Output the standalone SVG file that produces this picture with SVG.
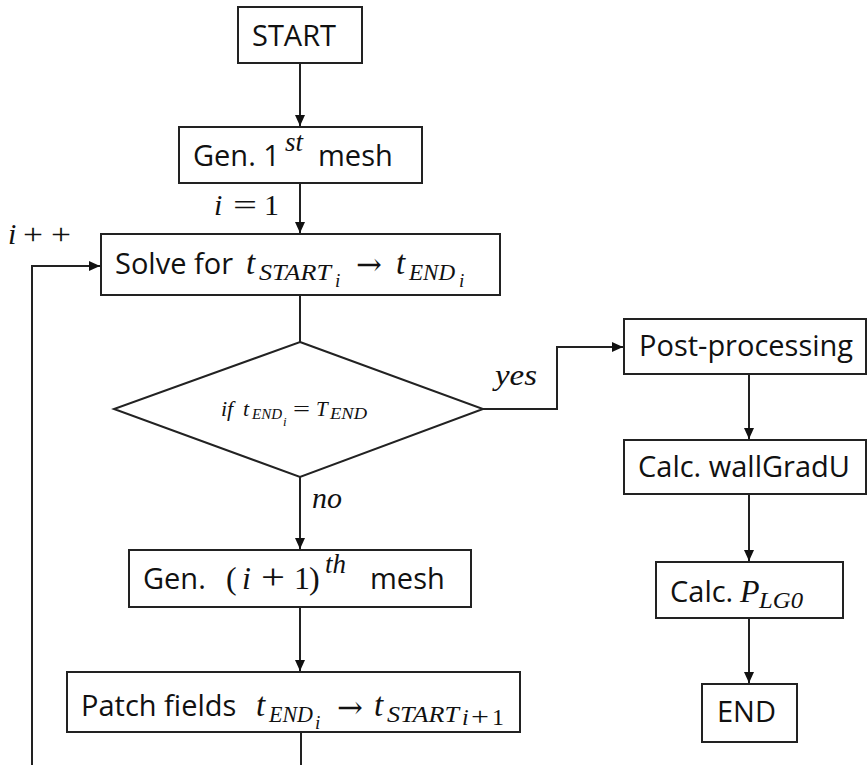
<svg xmlns="http://www.w3.org/2000/svg" width="867" height="765" viewBox="0 0 867 765">
  <style>
    .box { fill: #ffffff; stroke: #222222; stroke-width: 2; }
    .lbl { font-family: "Open Sans", "Noto Sans", "Liberation Sans", sans-serif; font-size: 29px; fill: #111111; }
    .m { font-family: "Liberation Serif", "DejaVu Serif", serif; font-style: italic; fill: #111111; }
    .mu { font-family: "Liberation Serif", "DejaVu Serif", serif; fill: #111111; }
    .arr { font-family: "DejaVu Serif", "DejaVu Sans", serif; fill: #111111; }
    .wire { fill: none; stroke: #222222; stroke-width: 2; }
  </style>
  <defs>
    <marker id="arrow" markerUnits="userSpaceOnUse" markerWidth="12" markerHeight="12" refX="11" refY="5" orient="auto">
      <path d="M0,0 L11,5 L0,10 Z" fill="#111111"/>
    </marker>
  </defs>
  <rect width="867" height="765" fill="#ffffff"/>

  <g id="connectors">
    <path class="wire" d="M300,63 V126" marker-end="url(#arrow)"/>
    <path class="wire" d="M300,183 V233" marker-end="url(#arrow)"/>
    <path class="wire" d="M300,295 V342"/>
    <path class="wire" d="M300,477 V549" marker-end="url(#arrow)"/>
    <path class="wire" d="M300,607 V671" marker-end="url(#arrow)"/>
    <path class="wire" d="M301,732 V765"/>
    <path class="wire" d="M32,765 V266 H100" marker-end="url(#arrow)"/>
    <path class="wire" d="M483,409 H557 V347 H623" marker-end="url(#arrow)"/>
    <path class="wire" d="M749,374 V439" marker-end="url(#arrow)"/>
    <path class="wire" d="M749,494 V561" marker-end="url(#arrow)"/>
    <path class="wire" d="M749,618 V683" marker-end="url(#arrow)"/>
    <!-- edge labels -->
    <g id="label-i-eq-1">
      <text class="m" x="214" y="215" font-size="30">i</text>
      <text class="mu" x="233" y="215" font-size="30" textLength="24" lengthAdjust="spacingAndGlyphs">=</text>
      <text class="mu" x="264" y="215" font-size="30">1</text>
    </g>
    <g id="label-i-inc">
      <text class="m" x="8" y="244" font-size="30">i</text>
      <text class="mu" x="23" y="244" font-size="30" textLength="20" lengthAdjust="spacingAndGlyphs">+</text>
      <text class="mu" x="51" y="244" font-size="30" textLength="20" lengthAdjust="spacingAndGlyphs">+</text>
    </g>
    <text class="m" x="495" y="385" font-size="30" textLength="42" lengthAdjust="spacingAndGlyphs">yes</text>
    <text class="m" x="312" y="508" font-size="30">no</text>
  </g>

  <g id="start">
    <rect class="box" x="238" y="7" width="124" height="56"/>
    <text class="lbl" x="252" y="46">START</text>
  </g>

  <g id="gen-first-mesh">
    <rect class="box" x="179" y="127" width="243" height="56"/>
    <text class="lbl" x="193" y="166">Gen. 1</text>
    <text class="m" x="285" y="151" font-size="27">st</text>
    <text class="lbl" x="318" y="166">mesh</text>
  </g>

  <g id="solve">
    <rect class="box" x="101" y="234" width="399" height="61"/>
    <text class="lbl" x="115" y="274">Solve for</text>
    <text class="m" x="246" y="274" font-size="33">t</text>
    <text class="m" x="259" y="280" font-size="23" textLength="72" lengthAdjust="spacingAndGlyphs">START</text>
    <text class="m" x="335" y="287" font-size="19">i</text>
    <text class="arr" x="356" y="275" font-size="31">→</text>
    <text class="m" x="396" y="274" font-size="33">t</text>
    <text class="m" x="409" y="280" font-size="23" textLength="46" lengthAdjust="spacingAndGlyphs">END</text>
    <text class="m" x="459" y="287" font-size="19">i</text>
  </g>

  <g id="decision">
    <polygon class="box" points="300,342 483,409 300,477 114,409"/>
    <text class="m" x="221" y="416" font-size="22">if</text>
    <text class="m" x="243" y="416" font-size="22">t</text>
    <text class="m" x="252" y="419" font-size="15">END</text>
    <text class="m" x="283" y="426" font-size="13">i</text>
    <text class="mu" x="293" y="416" font-size="21" textLength="17" lengthAdjust="spacingAndGlyphs">=</text>
    <text class="m" x="316" y="416" font-size="21">T</text>
    <text class="m" x="330" y="419" font-size="17" textLength="37" lengthAdjust="spacingAndGlyphs">END</text>
  </g>

  <g id="gen-next-mesh">
    <rect class="box" x="129" y="550" width="342" height="57"/>
    <text class="lbl" x="143" y="589">Gen.</text>
    <text class="mu" x="226" y="589" font-size="32">(</text>
    <text class="m" x="242" y="589" font-size="32">i</text>
    <text class="mu" x="261" y="589" font-size="36" textLength="24" lengthAdjust="spacingAndGlyphs">+</text>
    <text class="mu" x="294" y="589" font-size="32">1</text>
    <text class="mu" x="309" y="589" font-size="32">)</text>
    <text class="m" x="325" y="573" font-size="27">th</text>
    <text class="lbl" x="370" y="589">mesh</text>
  </g>

  <g id="patch">
    <rect class="box" x="67" y="672" width="453" height="60"/>
    <text class="lbl" x="81" y="716">Patch fields</text>
    <text class="m" x="256" y="716" font-size="33">t</text>
    <text class="m" x="269" y="722" font-size="23" textLength="44" lengthAdjust="spacingAndGlyphs">END</text>
    <text class="m" x="315" y="729" font-size="19">i</text>
    <text class="arr" x="337" y="718" font-size="31">→</text>
    <text class="m" x="374" y="716" font-size="33">t</text>
    <text class="m" x="387" y="722" font-size="23" textLength="72" lengthAdjust="spacingAndGlyphs">START</text>
    <text class="m" x="462" y="725" font-size="24">i</text>
    <text class="mu" x="471" y="725" font-size="26" textLength="18" lengthAdjust="spacingAndGlyphs">+</text>
    <text class="mu" x="492" y="725" font-size="24">1</text>
  </g>

  <g id="post-processing">
    <rect class="box" x="624" y="319" width="242" height="55"/>
    <text class="lbl" x="639" y="356">Post-processing</text>
  </g>

  <g id="calc-wallgradu">
    <rect class="box" x="624" y="440" width="242" height="54"/>
    <text class="lbl" x="638" y="477">Calc. wallGradU</text>
  </g>

  <g id="calc-plg0">
    <rect class="box" x="656" y="562" width="187" height="56"/>
    <text class="lbl" x="670" y="602">Calc.</text>
    <text class="m" x="740" y="602" font-size="32">P</text>
    <text class="m" x="759" y="608" font-size="23" textLength="44" lengthAdjust="spacingAndGlyphs">LG0</text>
  </g>

  <g id="end">
    <rect class="box" x="702" y="684" width="95" height="58"/>
    <text class="lbl" x="717" y="722">END</text>
  </g>
</svg>
